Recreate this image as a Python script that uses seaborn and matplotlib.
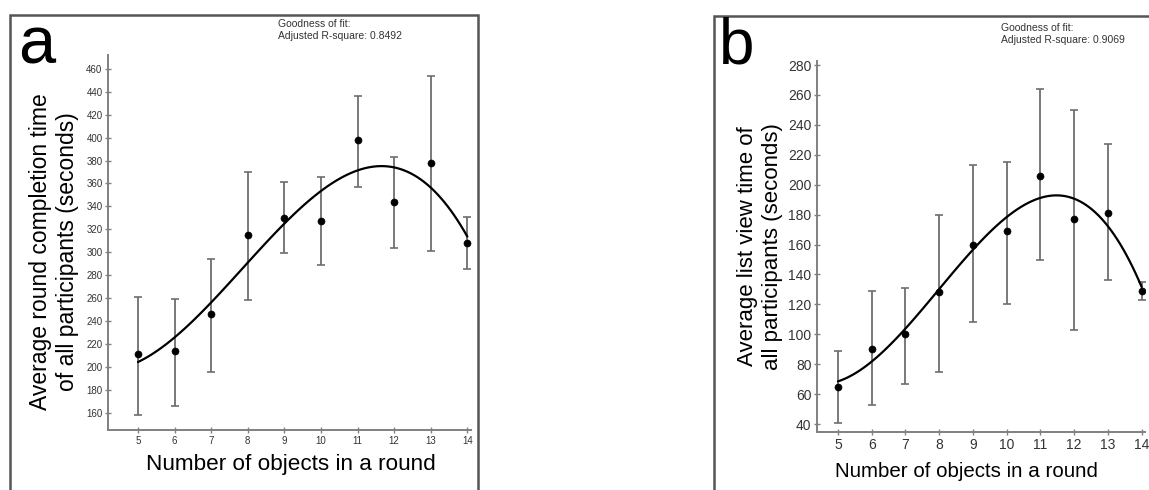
import numpy as np
import pandas as pd
import seaborn as sns
import matplotlib.pyplot as plt
from matplotlib.patches import Rectangle

# number of objects in a round
n_objects = [5, 6, 7, 8, 9, 10, 11, 12, 13, 14]

# panel a: round completion time (seconds)
round_mean = [211, 214, 246, 315, 330, 327, 398, 344, 378, 308]
round_low = [158, 166, 196, 258, 299, 289, 357, 304, 301, 285]
round_high = [261, 259, 294, 370, 361, 366, 436, 383, 454, 331]
round_r2 = "0.8492"

# panel b: list view time (seconds)
view_mean = [65, 90, 100, 128, 160, 169, 206, 177, 181, 129]
view_low = [41, 53, 67, 75, 108, 120, 150, 103, 136, 123]
view_high = [89, 129, 131, 180, 213, 215, 264, 250, 227, 135]
view_r2 = "0.9069"

W, H = 1149, 490
sns.set_theme(style="white")
plt.rcParams["font.family"] = ["Liberation Sans", "DejaVu Sans"]
plt.rcParams["text.color"] = "black"
plt.rcParams["axes.labelcolor"] = "black"

fig = plt.figure(figsize=(W / 100, H / 100), dpi=100)


def px_axes(x0, x1, ytop, ybot):
    return fig.add_axes([x0 / W, 1 - ybot / H, (x1 - x0) / W, (ybot - ytop) / H])


def panel(ax, mean, low, high, yticks, ylim, xlim, tick_fs):
    df = pd.DataFrame({"n": n_objects, "mean": mean})
    lo = np.array(mean) - np.array(low)
    hi = np.array(high) - np.array(mean)
    ax.errorbar(df["n"], df["mean"], yerr=[lo, hi], fmt="none",
                ecolor="#6e6e6e", elinewidth=1.3, capsize=3, capthick=1.2, zorder=1)
    sns.regplot(data=df, x="n", y="mean", order=3, ci=None, scatter=False,
                truncate=True, color="black", line_kws={"linewidth": 1.6}, ax=ax)
    sns.scatterplot(data=df, x="n", y="mean", color="black", s=26, marker="o",
                    edgecolor="black", zorder=3, ax=ax)
    ax.set_xlim(*xlim)
    ax.set_ylim(*ylim)
    ax.set_xticks(n_objects)
    ax.set_yticks(yticks)
    sns.despine(ax=ax)
    for s in ["left", "bottom"]:
        ax.spines[s].set_color("#808080")
        ax.spines[s].set_linewidth(1.4)
    ax.tick_params(direction="inout", length=4, width=1, color="#808080",
                   labelsize=tick_fs, labelcolor="#333333", pad=2, left=True, bottom=True)


# panel a
ax1 = px_axes(108, 471, 55, 430)
panel(ax1, round_mean, round_low, round_high, list(range(160, 461, 20)),
      (145, 472), (4.18, 14.1), 7)
ax1.set_xlabel("Number of objects in a round", fontsize=16.2)
ax1.set_ylabel("Average round completion time\nof all participants (seconds)", fontsize=16.5)
ax1.xaxis.set_label_coords(0.503, -0.065)
ax1.yaxis.set_label_coords(-0.08, 0.475)

# panel b
ax2 = px_axes(817, 1145, 61, 432)
panel(ax2, view_mean, view_low, view_high, list(range(40, 281, 20)),
      (34.7, 282.7), (4.38, 14.1), 10)
ax2.set_xlabel("Number of objects in a round", fontsize=14.8)
ax2.set_ylabel("Average list view time of\nall participants (seconds)", fontsize=16)
ax2.xaxis.set_label_coords(0.457, -0.082)
ax2.yaxis.set_label_coords(-0.105, 0.5)

# panel frames
for (x0, y0, x1) in [(10, 15, 478), (714, 16, 1170)]:
    fig.patches.append(Rectangle((x0 / W, -0.05), (x1 - x0) / W, 1 - y0 / H + 0.05,
                                 transform=fig.transFigure, fill=False,
                                 edgecolor="#555555", linewidth=1.8))

# panel letters
fig.text(18 / W, 1 - 16 / H, "a", fontsize=48, va="top", ha="left")
fig.text(719 / W, 1 - 17 / H, "b", fontsize=46, va="top", ha="left")

# goodness of fit notes
fig.text(278 / W, 1 - 19 / H, "Goodness of fit:\nAdjusted R-square: " + round_r2,
         fontsize=7.5, va="top", ha="left", color="#333333", linespacing=1.25)
fig.text(1001 / W, 1 - 23 / H, "Goodness of fit:\nAdjusted R-square: " + view_r2,
         fontsize=7.5, va="top", ha="left", color="#333333", linespacing=1.25)

fig.savefig("out.png", dpi=100)
